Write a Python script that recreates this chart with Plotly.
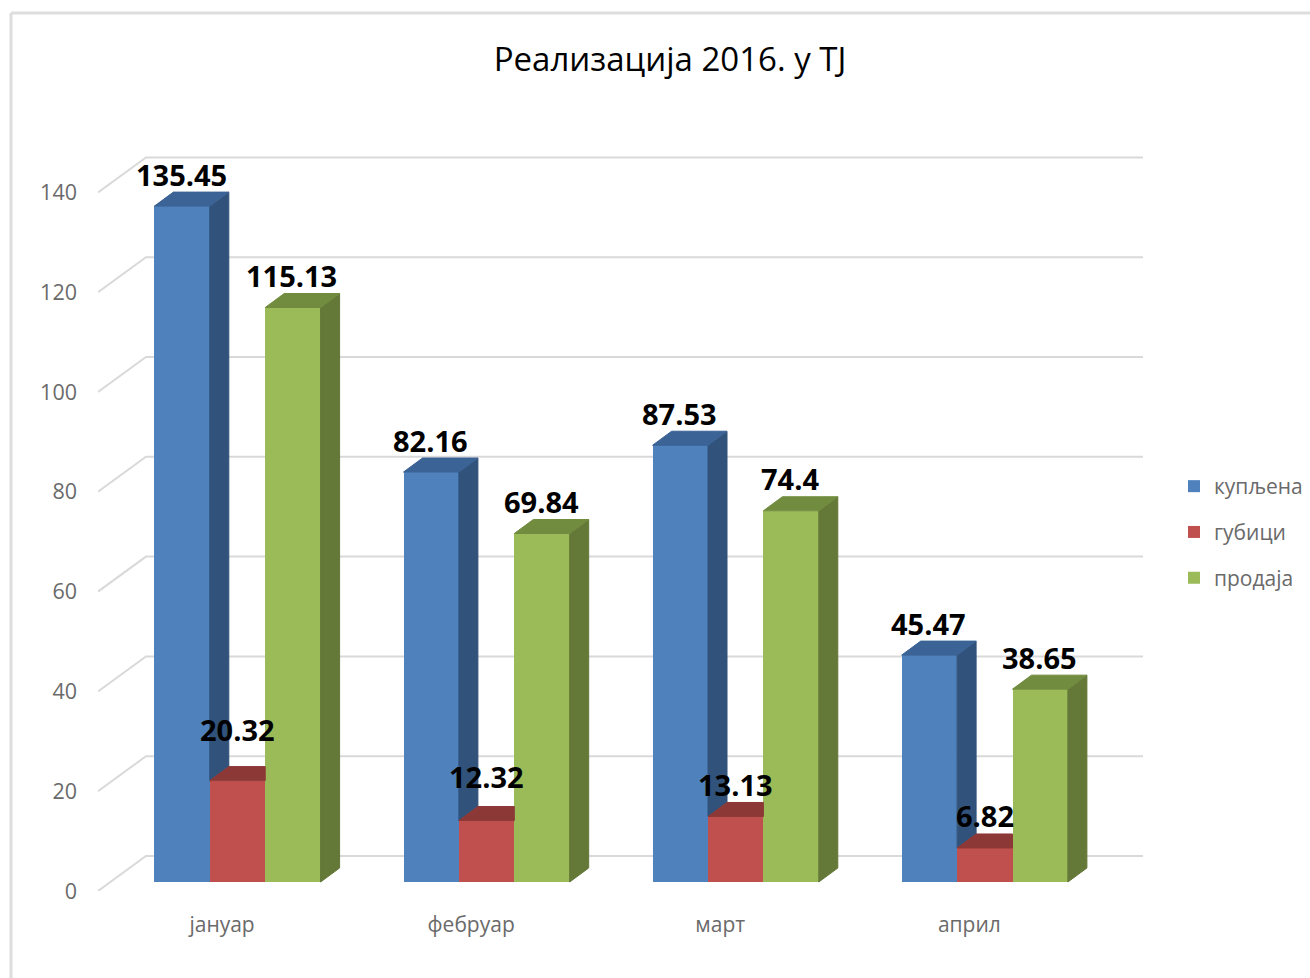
import plotly.graph_objects as go

months = ["јануар", "фебруар", "март", "април"]
series_names = ["купљена", "губици", "продаја"]
kupljena = [135.45, 82.16, 87.53, 45.47]
gubici = [20.32, 12.32, 13.13, 6.82]
prodaja = [115.13, 69.84, 74.4, 38.65]
y_ticks = [0, 20, 40, 60, 80, 100, 120, 140]
label_shift_gubici = [51, 44, 32, 32]

FONT = "Open Sans"
PX_X, PX_Y = 249.1, 4.99            # pixels per category, pixels per value unit
L, R, T, B = 98, 1143, 155, 891     # plot rectangle in pixels
PAPER_R = 1310
XMIN, XMAX = (L - 237.5) / PX_X, (R - 237.5) / PX_X
YMAX = (B - T) / PX_Y
W = 55.4 / PX_X                     # bar width
DX, DY = 19 / PX_X, 14 / PX_Y       # bar depth
LIFT = 9 / PX_Y                     # bars stand a little behind the front edge
WALL_X, WALL_Y = 48 / PX_X, 35 / PX_Y

BLUE, BLUE_TOP, BLUE_SIDE = "#4F81BD", "#3B6395", "#30527B"
RED, RED_TOP = "#C0504D", "#8C3836"
GREEN, GREEN_TOP, GREEN_SIDE = "#9BBB59", "#718C3F", "#647838"

idx = list(range(len(months)))
offs = [-W, 0, W]


def polys(quads, color):
    xs, ys = [], []
    for q in quads:
        xs += [p[0] for p in q] + [q[0][0], None]
        ys += [p[1] for p in q] + [q[0][1], None]
    return go.Scatter(x=xs, y=ys, mode="lines", fill="toself", fillcolor=color,
                      line=dict(width=1, color=color), hoverinfo="skip", showlegend=False)


fig = go.Figure()

# Front faces
for name, vals, color, off in zip(series_names, [kupljena, gubici, prodaja], [BLUE, RED, GREEN], offs):
    fig.add_trace(go.Bar(x=[i + off for i in idx], y=vals, base=LIFT, width=W, name=name,
                         marker=dict(color=color, line=dict(width=0)), legendgroup=name))

# Oblique faces, computed from the values
blue_side, blue_top, red_top, green_side, green_top = [], [], [], [], []
for i, a, b, c in zip(idx, kupljena, gubici, prodaja):
    xl = i - 1.5 * W
    xm1, xm2, xr = xl + W, xl + 2 * W, xl + 3 * W
    ta, tb, tc = LIFT + a, LIFT + b, LIFT + c
    blue_side.append([(xm1, ta), (xm1 + DX, ta + DY), (xm1 + DX, tb + DY), (xm1, tb)])
    blue_top.append([(xl, ta), (xm1, ta), (xm1 + DX, ta + DY), (xl + DX, ta + DY)])
    red_top.append([(xm1, tb), (xm2, tb), (xm2, tb + DY), (xm1 + DX, tb + DY)])
    green_side.append([(xr, tc), (xr + DX, tc + DY), (xr + DX, LIFT + DY), (xr, LIFT)])
    green_top.append([(xm2, tc), (xr, tc), (xr + DX, tc + DY), (xm2 + DX, tc + DY)])
for quads, color in [(blue_side, BLUE_SIDE), (blue_top, BLUE_TOP), (red_top, RED_TOP),
                     (green_side, GREEN_SIDE), (green_top, GREEN_TOP)]:
    fig.add_trace(polys(quads, color))

# Data labels
for vals, off, shifts, xs in [(kupljena, offs[0], [32] * 4, -1), (gubici, offs[1], label_shift_gubici, 0),
                              (prodaja, offs[2], [32] * 4, -1)]:
    for i, v, s in zip(idx, vals, shifts):
        fig.add_annotation(x=i + off, y=LIFT + v, yshift=s, xshift=xs, text=f"<b>{v:g}</b>", showarrow=False,
                           xanchor="center", yanchor="middle",
                           font=dict(family=FONT, size=29, color="#000000"))


def px(x):
    return (x - L) / (PAPER_R - L)


def py(y):
    return (B - y) / (B - T)


shapes = [
    dict(type="line", xref="paper", yref="paper", x0=px(11), x1=px(1310), y0=py(13), y1=py(13),
         line=dict(color="#DDDDDD", width=3)),
    dict(type="line", xref="paper", yref="paper", x0=px(11), x1=px(11), y0=py(13), y1=py(978),
         line=dict(color="#DDDDDD", width=3)),
]
# Back wall grid, beneath the bars
for v in y_ticks:
    shapes.append(dict(type="path", xref="x", yref="y", layer="below",
                       path=f"M{XMIN},{v} L{XMIN + WALL_X},{v + WALL_Y} L{XMAX},{v + WALL_Y}",
                       line=dict(color="#D9D9D9", width=2)))

fig.update_layout(
    width=1310, height=978, autosize=False,
    margin=dict(l=L, r=1310 - PAPER_R, t=T, b=978 - B),
    paper_bgcolor="white", plot_bgcolor="white",
    barmode="overlay", bargap=0,
    font=dict(family=FONT, color="#595959"),
    title=dict(text="Реализација 2016. у ТЈ", x=670 / 1310, xanchor="center", xref="container",
               y=1 - 59 / 978, yanchor="middle", yref="container",
               font=dict(family=FONT, size=33, color="#000000")),
    xaxis=dict(domain=[0, px(R)], range=[XMIN, XMAX], tickmode="array",
               tickvals=[i - 0.062 for i in idx], ticktext=months,
               showgrid=False, zeroline=False, showline=False, ticks="",
               ticklabelstandoff=19, tickfont=dict(family=FONT, size=21, color="#6A6A6A")),
    yaxis=dict(range=[0, YMAX], tickmode="array", tickvals=y_ticks, showgrid=False, zeroline=False,
               showline=False, ticks="", ticklabelstandoff=20,
               tickfont=dict(family=FONT, size=21.5, color="#6A6A6A")),
    legend=dict(x=px(1174), y=py(532), xanchor="left", yanchor="middle", tracegroupgap=15.5,
                bgcolor="rgba(0,0,0,0)", font=dict(family=FONT, size=21, color="#6A6A6A"),
                traceorder="grouped"),
    shapes=shapes,
    showlegend=True,
)

fig.write_html("out.html", config=dict(displayModeBar=False),
               post_script="document.body.style.margin='0';")
